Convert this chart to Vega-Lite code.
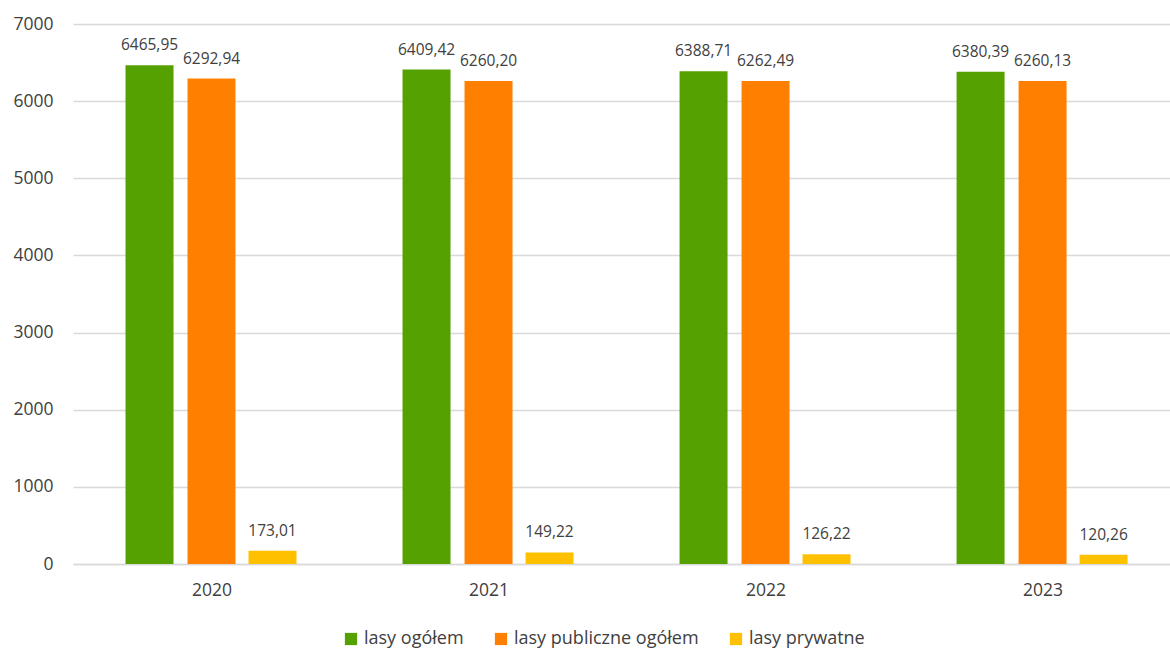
{
  "$schema": "https://vega.github.io/schema/vega-lite/v6.json",
  "autosize": "none",
  "padding": {"left": 73, "top": 24, "right": 0, "bottom": 87},
  "width": 1097,
  "height": 540,
  "background": "white",
  "config": {
    "font": "Open Sans",
    "view": {"stroke": null},
    "locale": {"number": {"decimal": ",", "thousands": "", "grouping": [3], "currency": ["", ""]}}
  },
  "data": {
    "values": [
      {"year": 2020, "series": "lasy ogółem", "value": 6465.95},
      {"year": 2020, "series": "lasy publiczne ogółem", "value": 6292.94},
      {"year": 2020, "series": "lasy prywatne", "value": 173.01},
      {"year": 2021, "series": "lasy ogółem", "value": 6409.42},
      {"year": 2021, "series": "lasy publiczne ogółem", "value": 6260.20},
      {"year": 2021, "series": "lasy prywatne", "value": 149.22},
      {"year": 2022, "series": "lasy ogółem", "value": 6388.71},
      {"year": 2022, "series": "lasy publiczne ogółem", "value": 6262.49},
      {"year": 2022, "series": "lasy prywatne", "value": 126.22},
      {"year": 2023, "series": "lasy ogółem", "value": 6380.39},
      {"year": 2023, "series": "lasy publiczne ogółem", "value": 6260.13},
      {"year": 2023, "series": "lasy prywatne", "value": 120.26}
    ]
  },
  "encoding": {
    "x": {
      "field": "year", "type": "quantitative",
      "scale": {"domain": [2019.5, 2023.46], "nice": false, "zero": false, "padding": 0},
      "axis": {
        "title": null, "values": [2020, 2021, 2022, 2023], "format": "d",
        "grid": false, "ticks": false, "domainColor": "#d9d9d9", "domainWidth": 1.5,
        "labelFontSize": 17.5, "labelColor": "#404040", "labelPadding": 17, "labelFont": "Open Sans"
      }
    },
    "y": {
      "field": "value", "type": "quantitative",
      "scale": {"domain": [0, 7000], "nice": false},
      "axis": {
        "title": null, "values": [0, 1000, 2000, 3000, 4000, 5000, 6000, 7000], "format": "d",
        "ticks": false, "domain": false, "gridColor": "#d9d9d9", "gridWidth": 1.5,
        "labelFontSize": 17.5, "labelColor": "#404040", "labelPadding": 20, "labelFont": "Open Sans"
      }
    }
  },
  "layer": [
    {
      "transform": [{"filter": "datum.series === 'lasy ogółem'"}],
      "mark": {"type": "bar", "width": 48, "xOffset": -62},
      "encoding": {
        "color": {
          "field": "series", "type": "nominal",
          "scale": {"domain": ["lasy ogółem", "lasy publiczne ogółem", "lasy prywatne"], "range": ["#55A100", "#FF8000", "#FFC000"]},
          "legend": {
            "title": null, "orient": "none", "legendX": 269, "legendY": 606, "direction": "horizontal",
            "symbolType": "square", "symbolSize": 150, "symbolStrokeWidth": 0, "labelFontSize": 18,
            "labelColor": "#404040", "columnPadding": 28, "labelOffset": 4, "labelFont": "Open Sans",
            "labelLimit": 0
          }
        }
      }
    },
    {
      "transform": [{"filter": "datum.series === 'lasy publiczne ogółem'"}],
      "mark": {"type": "bar", "width": 48, "xOffset": 0},
      "encoding": {"color": {"field": "series", "type": "nominal"}}
    },
    {
      "transform": [{"filter": "datum.series === 'lasy prywatne'"}],
      "mark": {"type": "bar", "width": 48, "xOffset": 61},
      "encoding": {"color": {"field": "series", "type": "nominal"}}
    },
    {
      "transform": [{"filter": "datum.series === 'lasy ogółem'"}],
      "mark": {"type": "text", "xOffset": -62, "dy": -12, "baseline": "bottom", "fontSize": 15.5, "color": "#404040"},
      "encoding": {"text": {"field": "value", "type": "quantitative", "format": ".2f"}}
    },
    {
      "transform": [{"filter": "datum.series === 'lasy publiczne ogółem'"}],
      "mark": {"type": "text", "xOffset": 0, "dy": -12, "baseline": "bottom", "fontSize": 15.5, "color": "#404040"},
      "encoding": {"text": {"field": "value", "type": "quantitative", "format": ".2f"}}
    },
    {
      "transform": [{"filter": "datum.series === 'lasy prywatne'"}],
      "mark": {"type": "text", "xOffset": 61, "dy": -12, "baseline": "bottom", "fontSize": 15.5, "color": "#404040"},
      "encoding": {"text": {"field": "value", "type": "quantitative", "format": ".2f"}}
    }
  ]
}
